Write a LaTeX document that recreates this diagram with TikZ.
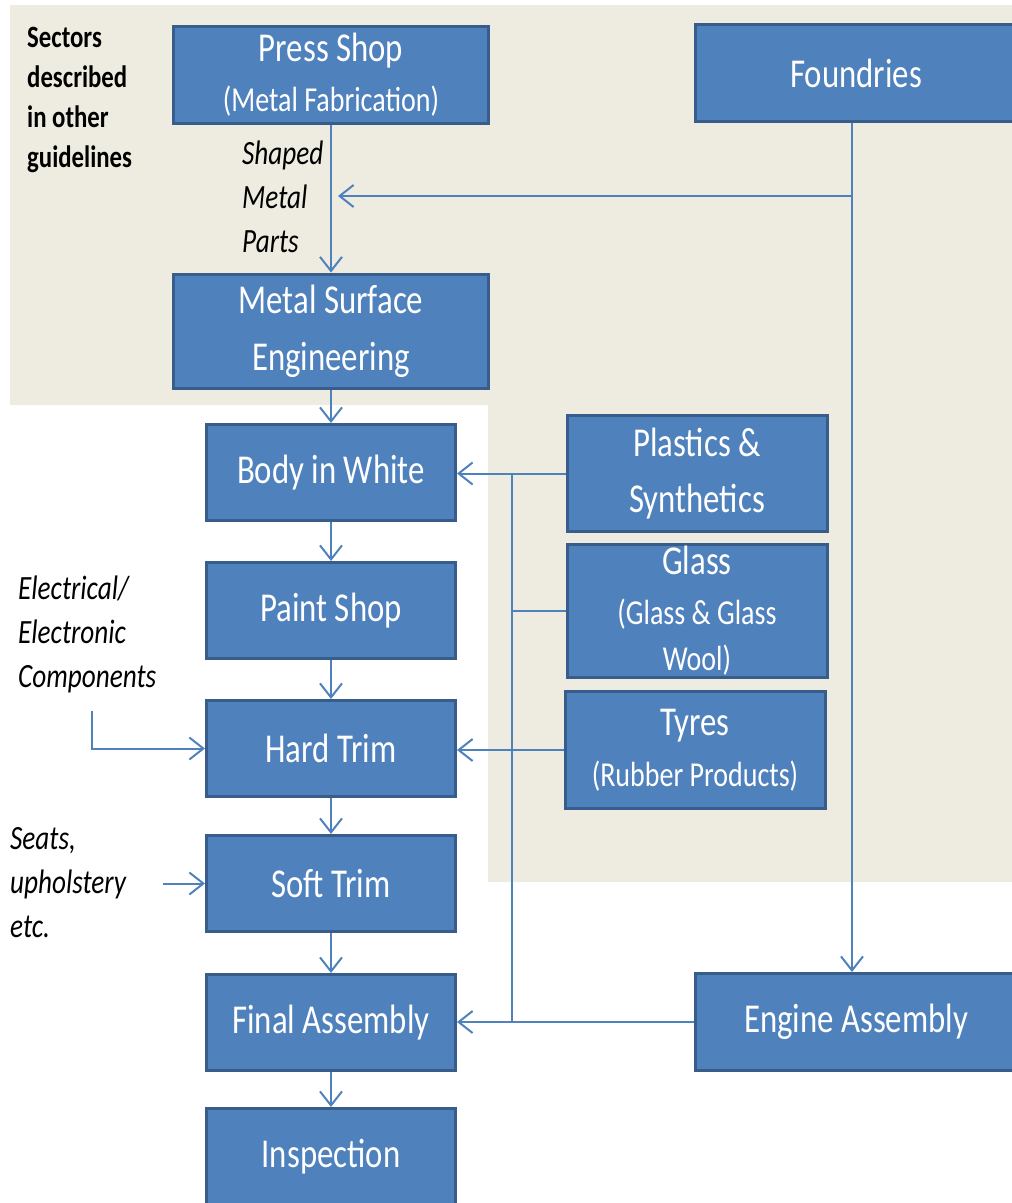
\documentclass[tikz,border=0pt]{standalone}
\usepackage{fontspec}
\setmainfont{Carlito}
\newfontfamily\boxfont[FakeStretch=0.8]{Carlito}
\newfontfamily\labfont[FakeStretch=0.8]{Carlito}
\usetikzlibrary{arrows.meta}
\definecolor{boxfill}{HTML}{4F81BD}
\definecolor{boxline}{HTML}{385D8A}
\definecolor{beige}{HTML}{EEECE1}
\definecolor{conn}{HTML}{4F81BD}
\newcommand\parenline{\fontsize{35}{54}\selectfont}
\tikzset{
  box/.style={draw=boxline, line width=3pt, fill=boxfill, text=white, inner sep=0pt,
    align=center, font=\boxfont\fontsize{41}{54}\selectfont},
  colbox/.style={box, minimum width=249pt, minimum height=96pt},
  flow/.style={draw=conn, line width=2pt, -{Straight Barb[length=14pt,width=22pt]}},
  plain/.style={draw=conn, line width=2pt},
  note/.style={inner sep=0pt, anchor=north west, align=left, text=black},
  italnote/.style={note, font=\labfont\itshape\fontsize{34}{44}\selectfont}
}
\begin{document}
\begin{tikzpicture}[x=1pt,y=-1pt]
\useasboundingbox (0,0) rectangle (1012,1203);
\fill[beige] (10,5) -- (1012,5) -- (1012,882) -- (488,882) -- (488,405) -- (10,405) -- cycle;

% boxes
\node[box, minimum width=315pt, minimum height=97pt] (press) at (331,75)
  {Press Shop\\[-4pt]{\parenline (Metal Fabrication)}};
\node[box, minimum width=321pt, minimum height=97pt] (foundries) at (856,73) {Foundries};
\node[box, minimum width=315pt, minimum height=114pt] (mse) at (331,331)
  {Metal Surface\\[3pt]Engineering};
\node[colbox] (biw) at (331,472.5) {Body in White};
\node[colbox] (paint) at (331,610.5) {Paint Shop};
\node[colbox] (hard) at (331,748.5) {Hard Trim};
\node[colbox] (soft) at (331,883.5) {Soft Trim};
\node[colbox] (final) at (331,1022.5) {Final Assembly};
\node[colbox] (insp) at (331,1156.5) {Inspection};
\node[box, minimum width=260pt, minimum height=116pt] (plastics) at (697,473.5)
  {Plastics \&\\[2pt]Synthetics};
\node[box, minimum width=260pt, minimum height=133pt] (glass) at (697,610.5)
  {Glass\\[-4pt]{\parenline (Glass \& Glass}\\[-8pt]{\parenline Wool)}};
\node[box, minimum width=260pt, minimum height=117pt] (tyres) at (695,750)
  {Tyres\\[-3pt]{\parenline (Rubber Products)}};
\node[box, minimum width=321pt, minimum height=97pt] (engine) at (856,1022) {Engine Assembly};

% notes
\node[note, font=\labfont\bfseries\fontsize{31}{40}\selectfont] (sectors) at (27,27)
  {Sectors\\described\\in other\\guidelines};
\node[italnote] (shaped) at (242,141) {Shaped\\Metal\\Parts};
\node[italnote] (elec) at (18,576) {Electrical/\\Electronic\\Components};
\node[italnote] (seats) at (10,827) {Seats,\\upholstery\\etc.};

% main column
\draw[flow] (press) -- (mse);
\draw[flow] (mse) -- (biw);
\draw[flow] (biw) -- (paint);
\draw[flow] (paint) -- (hard);
\draw[flow] (hard) -- (soft);
\draw[flow] (soft) -- (final);
\draw[flow] (final) -- (insp);

% foundries
\coordinate (fx) at (852,0);
\coordinate (fj) at (852,196);
\coordinate (fin) at (338,196);
\draw[flow] (foundries.south -| fx) -- (engine.north -| fx);
\draw[flow] (fj) -- (fin);

% supplier bus
\coordinate (busx) at (512,0);
\draw[plain] (plastics.west -| busx) -- (engine.west -| busx);
\draw[flow] (plastics.west) -- (plastics.west -| biw.east);
\draw[plain] (glass.west) -- (glass.west -| busx);
\draw[flow] (tyres.west) -- (tyres.west -| hard.east);
\draw[flow] (engine.west) -- (engine.west -| final.east);

% side inputs
\coordinate (ec) at (92,711);
\draw[flow] (ec) |- (hard.west);
\coordinate (sc) at (163,883.5);
\draw[flow] (sc) -- (soft.west);
\end{tikzpicture}
\end{document}
